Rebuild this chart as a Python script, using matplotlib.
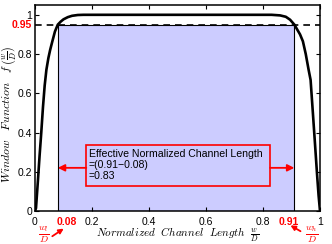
import matplotlib
matplotlib.use("Agg")
import matplotlib.pyplot as plt
from matplotlib.patches import Rectangle
import matplotlib.transforms as mtransforms

plt.rcParams['font.family'] = ['Liberation Sans', 'DejaVu Sans']
plt.rcParams['mathtext.fontset'] = 'cm'

# window function curve
curve_x = [0.0, 0.0035, 0.01, 0.016, 0.022, 0.028, 0.034, 0.04, 0.047, 0.053, 0.06, 0.07,
           0.08, 0.09, 0.1, 0.115, 0.13, 0.15, 0.17,
           0.83, 0.86, 0.88, 0.895, 0.91, 0.92, 0.93, 0.94, 0.95, 0.96, 0.967,
           0.975, 0.983, 0.99, 0.995, 1.0]
curve_y = [0.0, 0.015, 0.15, 0.28, 0.40, 0.53, 0.64, 0.72, 0.78, 0.82, 0.86, 0.915,
           0.95, 0.965, 0.977, 0.988, 0.995, 0.999, 1.0,
           1.0, 0.997, 0.99, 0.975, 0.95, 0.925, 0.9, 0.865, 0.8, 0.72, 0.668,
           0.50, 0.33, 0.18, 0.08, 0.0]

w_low = 0.08
w_high = 0.91
threshold = 0.95
effective = 0.83

xticks = [0, 0.2, 0.4, 0.6, 0.8, 1]
xticklabels = ['0', '0.2', '0.4', '0.6', '0.8', '1']
yticks = [0, 0.2, 0.4, 0.6, 0.8, 1]
yticklabels = ['0', '0.2', '0.4', '0.6', '0.8', '1']

box_text = "Effective Normalized Channel Length\n=(0.91\u22120.08)\n=0.83"

fig = plt.figure(figsize=(3.32, 2.44), dpi=100)
ax = fig.add_axes([35/332, 1-211/244, 285/332, 206/244])

ax.add_patch(Rectangle((w_low, 0), w_high - w_low, threshold,
                       facecolor='#ccccff', edgecolor='black', lw=0.8, zorder=1))
ax.plot([0, 1], [threshold, threshold], color='black', lw=1.2, ls=(0, (4, 3)), zorder=3)
ax.plot(curve_x, curve_y, color='black', lw=1.9, zorder=4)

ax.set_xlim(0, 1)
ax.set_ylim(0, 1.05)
ax.set_xticks(xticks)
ax.set_xticklabels(xticklabels)
ax.set_yticks(yticks)
ax.set_yticklabels(yticklabels)
ax.tick_params(direction='in', length=3, width=0.8, labelsize=7.5, top=True, right=True)
ax.tick_params(axis='x', pad=4)
ax.tick_params(axis='y', pad=2)
for s in ax.spines.values():
    s.set_linewidth(1.1)

ax.set_xlabel(r'$Normalized\ \ Channel\ \ Length\ \ \frac{w}{D}$', fontsize=8)
ax.xaxis.set_label_coords(0.5, -0.072)
ax.set_ylabel(r'$Window\ \ \ Function\ \ \ f\,\left(\frac{w}{D}\right)$', fontsize=8.5)
ax.yaxis.set_label_coords(-0.058, 0.47)

# red special labels
tr_y = mtransforms.blended_transform_factory(ax.transAxes, ax.transData)
ax.text(-0.012, threshold, '0.95', transform=tr_y, ha='right', va='center',
        color='red', fontweight='bold', fontsize=7.5)
tr_x = mtransforms.blended_transform_factory(ax.transData, ax.transAxes)
ax.text(0.112, -0.027, '0.08', transform=tr_x, ha='center', va='top',
        color='red', fontweight='bold', fontsize=7.5)
ax.text(0.891, -0.027, '0.91', transform=tr_x, ha='center', va='top',
        color='red', fontweight='bold', fontsize=7.5)

ax.text(0.03, -0.117, r'$\frac{w_l}{D}$', transform=ax.transAxes, ha='center', va='center',
        color='red', fontsize=10)
ax.text(0.972, -0.117, r'$\frac{w_h}{D}$', transform=ax.transAxes, ha='center', va='center',
        color='red', fontsize=10)
ax.annotate('', xy=(0.1088, -0.078), xytext=(0.0526, -0.13), xycoords='axes fraction',
            arrowprops=dict(arrowstyle='-|>', color='red', lw=1.3, mutation_scale=7),
            annotation_clip=False)
ax.annotate('', xy=(0.888, -0.063), xytext=(0.94, -0.105), xycoords='axes fraction',
            arrowprops=dict(arrowstyle='-|>', color='red', lw=1.3, mutation_scale=7),
            annotation_clip=False)

# effective length box and arrows
ax.add_patch(Rectangle((0.18, 0.128), 0.645, 0.209, facecolor='#ccccff',
                       edgecolor='red', lw=1.2, zorder=5))
ax.text(0.188, 0.236, box_text, ha='left', va='center', fontsize=7.6,
        linespacing=1.12, zorder=6)
ax.annotate('', xy=(w_low, 0.22), xytext=(0.18, 0.22),
            arrowprops=dict(arrowstyle='-|>', color='red', lw=1.3, mutation_scale=10,
                            shrinkA=0, shrinkB=0), zorder=6)
ax.annotate('', xy=(w_high, 0.22), xytext=(0.825, 0.22),
            arrowprops=dict(arrowstyle='-|>', color='red', lw=1.3, mutation_scale=10,
                            shrinkA=0, shrinkB=0), zorder=6)

fig.savefig('out.png', dpi=100)
